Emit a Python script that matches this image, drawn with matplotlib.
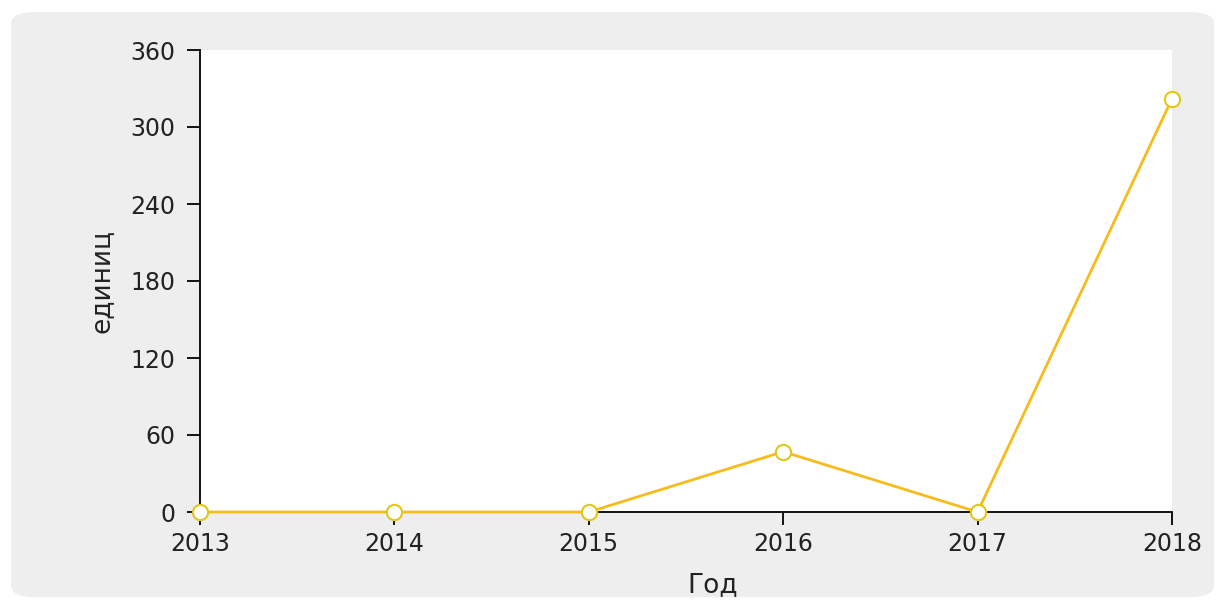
import matplotlib.pyplot as plt
from matplotlib.patches import FancyBboxPatch

plt.rcParams["font.family"] = "DejaVu Sans"

years = [2013, 2014, 2015, 2016, 2017, 2018]
values = [0, 0, 0, 47, 0, 322]
y_ticks = [0, 60, 120, 180, 240, 300, 360]

line_color = '#F7BC1C'
marker_edge = '#E0C818'

fig = plt.figure(figsize=(12.25, 6.02), dpi=100)
fig.patch.set_facecolor('white')

# gray panel behind the chart
panel = FancyBboxPatch((0.009, 0.008), 0.982, 0.972, boxstyle="round,pad=0,rounding_size=0.02",
                       transform=fig.transFigure, facecolor='#EEEEEE', edgecolor='none', zorder=-1)
fig.add_artist(panel)

ax = fig.add_axes([200/1225, 1 - 512/602, (1172-200)/1225, (512-50)/602])
ax.set_zorder(2)
ax.set_facecolor('white')

ax.plot(years, values, color=line_color, linewidth=2, marker='o', markersize=11,
        markerfacecolor='white', markeredgecolor=marker_edge, markeredgewidth=1.5,
        clip_on=False, zorder=5)

ax.set_xlim(2013, 2018)
ax.set_ylim(0, 360)
ax.set_xticks(years)
ax.set_yticks(y_ticks)

for side in ['top', 'right']:
    ax.spines[side].set_visible(False)
for side in ['left', 'bottom']:
    ax.spines[side].set_color('black')
    ax.spines[side].set_linewidth(1.3)

ax.tick_params(axis='both', labelsize=17, colors='black', labelcolor='#222222',
               length=9.5, width=1.3)
ax.tick_params(axis='y', pad=8)
ax.tick_params(axis='x', pad=5)

ax.set_xlabel('Год', fontsize=19, color='#222222')
ax.set_ylabel('единиц', fontsize=19, color='#222222')
ax.xaxis.set_label_coords(0.527, -0.13)
ax.yaxis.set_label_coords(-0.087, 0.5)

plt.savefig('out.png', dpi=100, facecolor=fig.get_facecolor())
